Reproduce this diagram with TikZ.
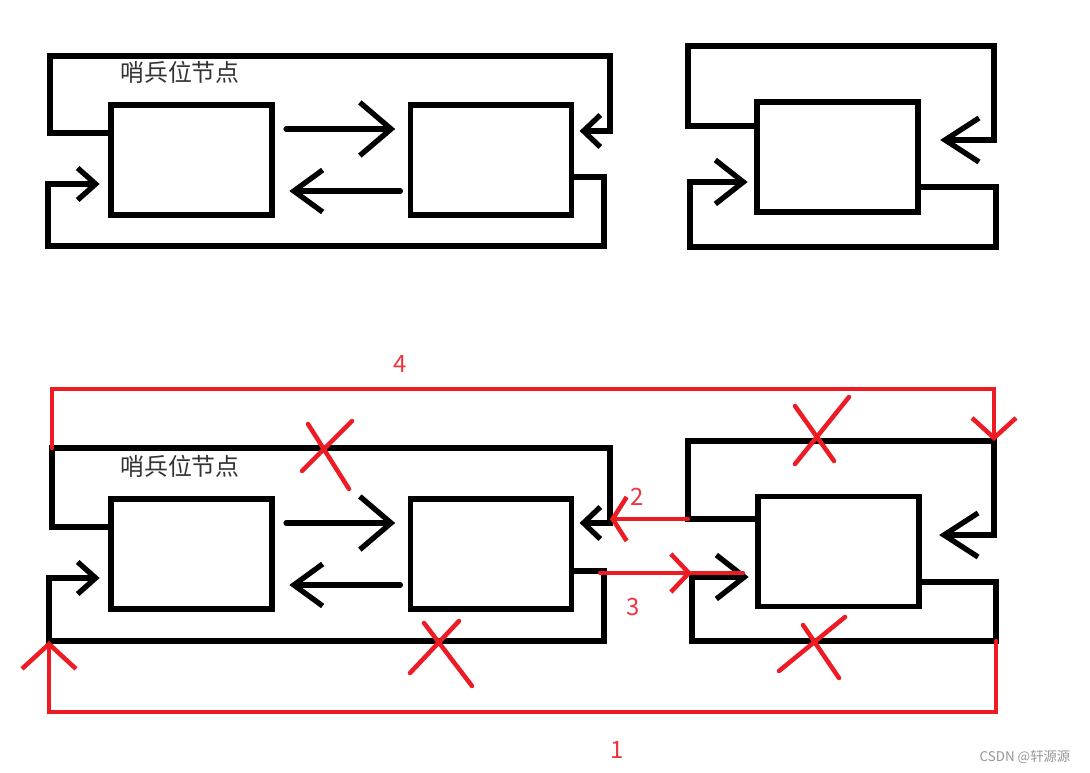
\documentclass[tikz,border=0pt]{standalone}
\usepackage{fontspec}
\usepackage{xcolor}
\usepackage{tikz}
\usetikzlibrary{arrows.meta}
\newfontfamily\cjk{Noto Sans CJK SC}
\definecolor{paintred} {RGB}{237,28,36}
\definecolor{labelred} {RGB}{238,52,62}
\definecolor{inkgray}  {RGB}{51,51,51}
\definecolor{markgray} {RGB}{150,150,150}

\begin{document}
\begin{tikzpicture}[
  x=0.025cm, y=-0.025cm,
  cell/.style={draw,line width=3.8pt,minimum width=4.03cm,
               minimum height=2.75cm,inner sep=0pt,outer sep=0pt},
  wire/.style={line width=3.8pt,line cap=round},
  cut/.style={paintred,line width=3.2pt,line cap=round},
  hd/.style 2 args={-{Straight Barb[length=#1,width=#2]}},
  tag/.style={font=\cjk\fontsize{17}{20}\selectfont,text=inkgray},
  num/.style={font=\cjk\fontsize{17}{20}\selectfont,text=labelred},
]
\useasboundingbox (0,0) rectangle (1090,773);

%% ── Top row: list with sentinel node ─────────────────────────────────────────
\node[cell] (A1) at (191.5,160) {};
\node[cell] (B1) at (491,160) {};
\node[tag] (T1) at (180,72) {哨兵位节点};

\draw[wire,hd={0.78cm}{1.33cm},shorten <=0.35cm,shorten >=0.38cm]
  (A1.east |- 0,129) -- (B1.west |- 0,129);
\draw[wire,hd={0.72cm}{1.05cm},shorten <=0.25cm,shorten >=0.43cm]
  (B1.west |- 0,191) -- (A1.east |- 0,191);
\draw[wire,hd={0.42cm}{0.8cm},shorten >=0.2cm]
  (A1.west |- 0,133) -- (50,133) -- (50,56) -- (610,56) -- (610,131)
  -- (B1.east |- 0,131);
\draw[wire,hd={0.45cm}{0.8cm},shorten >=0.28cm]
  (B1.east |- 0,177) -- (604,177) -- (604,246) -- (48,246) -- (48,184)
  -- (A1.west |- 0,184);

%% ── Top row: single node ─────────────────────────────────────────────────────
\node[cell] (C1) at (837.5,157) {};

\draw[wire,hd={0.85cm}{1.1cm},shorten >=0.55cm]
  (C1.west |- 0,126) -- (688,126) -- (688,46) -- (994,46) -- (994,140)
  -- (C1.east |- 0,140);
\draw[wire,hd={0.7cm}{1.1cm},shorten >=0.23cm]
  (C1.east |- 0,187) -- (996,187) -- (996,247) -- (690,247) -- (690,182)
  -- (C1.west |- 0,182);

%% ── Bottom row: same two lists before splicing ───────────────────────────────
\node[cell] (A2) at (191.5,554) {};
\node[cell] (B2) at (491,554) {};
\node[tag] (T2) at (180,466) {哨兵位节点};
\node[cell] (C2) at (838.5,551.5) {};

\draw[wire,hd={0.78cm}{1.33cm},shorten <=0.35cm,shorten >=0.38cm]
  (A2.east |- 0,523) -- (B2.west |- 0,523);
\draw[wire,hd={0.72cm}{1.05cm},shorten <=0.25cm,shorten >=0.43cm]
  (B2.west |- 0,585) -- (A2.east |- 0,585);
\draw[wire,hd={0.42cm}{0.8cm},shorten >=0.2cm]
  (A2.west |- 0,527) -- (52,527) -- (52,448) coordinate (ta2)
  -- (610,448) -- (610,523) coordinate (rb2) -- (B2.east |- 0,523);
\draw[wire,hd={0.45cm}{0.8cm},shorten >=0.28cm]
  (B2.east |- 0,571) -- (604,571) coordinate (ob2) -- (604,641)
  -- (49,641) coordinate (ba2) -- (49,578) -- (A2.west |- 0,578);

\draw[wire,hd={0.85cm}{1.1cm},shorten >=0.5cm]
  (C2.west |- 0,519) -- (688,519) coordinate (lc2) -- (688,441)
  -- (994,441) coordinate (tc2) -- (994,535) -- (C2.east |- 0,535);
\draw[wire,hd={0.7cm}{1.1cm},shorten >=0.23cm]
  (C2.east |- 0,582) -- (996,582) -- (996,641) coordinate (bc2)
  -- (692,641) -- (692,577) coordinate (ic2) -- (C2.west |- 0,577);

%% ── Red links after splicing ─────────────────────────────────────────────────
\draw[cut,hd={0.62cm}{1.35cm}] (bc2) -- ++(0,71) -| (ba2);
\node[num] (n1) at (617,750) {1};

\draw[cut,hd={0.35cm}{1.1cm}] (lc2) -- (lc2 -| rb2);
\node[num] (n2) at (637,497) {2};

\draw[cut,hd={0.45cm}{0.95cm}] ([xshift=-0.1cm]ob2 |- 0,573) -- (ic2 |- 0,573);
\draw[cut] (ic2 |- 0,573) -- (743,573);
\node[num] (n3) at (633,607) {3};

\draw[cut,hd={0.5cm}{1.1cm}] (ta2) -- ++(0,-59) -| (tc2);
\node[num] (n4) at (400,364) {4};

%% ── Broken links ─────────────────────────────────────────────────────────────
\draw[cut] (308,424) -- (349,489) (352,421) -- (302,471);
\draw[cut] (424,623) -- (472,686) (459,621) -- (410,673);
\draw[cut] (795,406) -- (834,461) (849,397) -- (795,464);
\draw[cut] (803,625) -- (839,678) (845,617) -- (779,671);

\node[font=\cjk\fontsize{9.5}{11}\selectfont,text=markgray] (wm)
  at (1025,757) {CSDN @轩源源};

\end{tikzpicture}
\end{document}
